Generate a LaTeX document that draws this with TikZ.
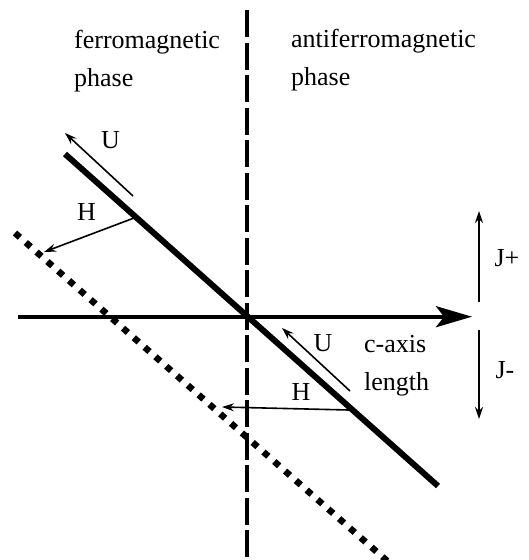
\documentclass[tikz,border=0pt]{standalone}
\usepackage{fontspec}
\setmainfont{Liberation Serif}
\usetikzlibrary{arrows.meta}
\begin{document}
\begin{tikzpicture}[x=1pt,y=-1pt,
  lbl/.style={inner sep=0pt,font=\fontsize{26}{38}\selectfont},
  txt/.style={inner sep=0pt,anchor=north west,align=left,font=\fontsize{26}{38}\selectfont},
  thinarrow/.style={line width=1.6pt,-{Stealth[length=12pt,width=8pt,inset=4pt]}},
  boundary/.style={line width=4pt,dash pattern=on 27pt off 5.5pt},
  mainline/.style={line width=6pt},
  shifted/.style={line width=6.5pt,dash pattern=on 6.5pt off 7.9pt},
  axis/.style={line width=3.8pt,-{Stealth[length=36pt,width=21pt,inset=8pt]}}]
\useasboundingbox (0,0) rectangle (528,560);
% coordinates
\coordinate (vt) at (246.7,10);
\coordinate (vb) at (246.7,560);
\coordinate (ax0) at (18,316.7);
\coordinate (ax1) at (472,316.7);
\coordinate (m0) at (65,154);
\coordinate (m1) at (438,486);
\coordinate (d0) at (15,233);
\coordinate (d1) at (394,567);
\coordinate (u1t) at (133,196);
\coordinate (u1h) at (65,133);
\coordinate (h1t) at (134,218);
\coordinate (h1h) at (44,252);
\coordinate (u2t) at (350,391);
\coordinate (u2h) at (282,328);
\coordinate (h2t) at (349,410);
\coordinate (h2h) at (222,407);
\coordinate (jpt) at (479,302);
\coordinate (jph) at (479,211);
\coordinate (jmt) at (479,330);
\coordinate (jmh) at (479,419);
% lines
\draw[boundary] (vt) -- (vb);
\draw[shifted] (d0) -- (d1);
\draw[axis] (ax0) -- (ax1);
\draw[mainline] (m0) -- (m1);
\draw[thinarrow] (u1t) -- (u1h);
\draw[thinarrow] (h1t) -- (h1h);
\draw[thinarrow] (u2t) -- (u2h);
\draw[thinarrow] (h2t) -- (h2h);
\draw[thinarrow] (jpt) -- (jph);
\draw[thinarrow] (jmt) -- (jmh);
% labels
\node[txt] (ferro) at (74,30) {ferromagnetic\\phase};
\node[txt] (anti) at (291,29) {antiferromagnetic\\phase};
\node[txt] (caxis) at (364,335) {c-axis\\length};
\node[lbl] (U1) at (110.5,140) {U};
\node[lbl] (H1) at (86.5,211.5) {H};
\node[lbl] (U2) at (323,343) {U};
\node[lbl] (H2) at (301,391.5) {H};
\node[lbl] (Jp) at (507,258) {J+};
\node[lbl] (Jm) at (505,370) {J-};
\end{tikzpicture}
\end{document}
